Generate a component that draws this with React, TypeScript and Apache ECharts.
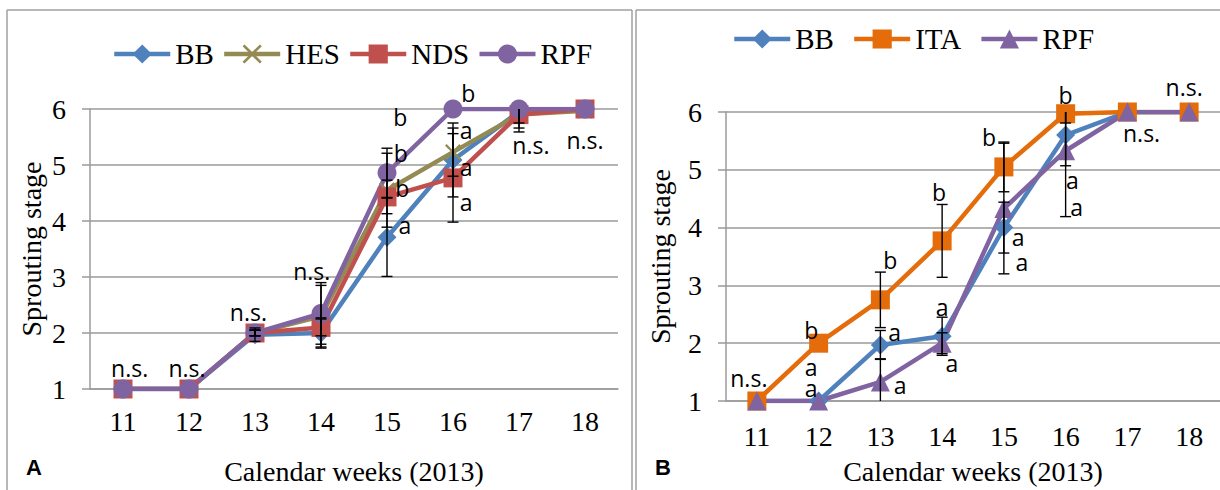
import React, { useEffect, useRef } from "react";
import * as echarts from "echarts";

// ---------- data ----------
const weeks = ["11", "12", "13", "14", "15", "16", "17", "18"];

// Panel A
const bbA = [1, 1, 1.97, 2.0, 3.71, 5.09, 5.95, 6];
const hesA = [1, 1, 2, 2.3, 4.55, 5.23, 5.9, 5.97];
const ndsA = [1, 1, 2, 2.1, 4.43, 4.77, 5.9, 6];
const rpfA = [1, 1, 2, 2.35, 4.86, 6, 6, 6];
const sdBbA = [0, 0, 0.12, 0.27, 0.7, 0.66, 0.2, 0];
const sdHesA = [0, 0, 0.05, 0.55, 0.66, 0.43, 0.24, 0];
const sdNdsA = [0, 0, 0.05, 0.15, 0.3, 0.79, 0.31, 0];
const sdRpfA = [0, 0, 0.05, 0.55, 0.44, 0, 0, 0];

// Panel B
const bbB = [1, 1, 1.97, 2.12, 4.0, 5.6, 6, 6];
const itaB = [1, 2, 2.75, 3.77, 5.05, 5.97, 6, 6];
const rpfB = [1, 1, 1.33, 2.0, 4.33, 5.33, 6, 6];
const sdBbB = [0, 0, 0.25, 0.33, 0.44, 0.53, 0, 0];
const sdItaB = [0, 0, 0.48, 0.63, 0.43, 0.16, 0, 0];
const sdRpfB = [0, 0, 0.4, 0.18, 1.13, 1.14, 0, 0];

const yTicks = [1, 2, 3, 4, 5, 6];

// significance letters: [week index, value level, offset within band, text]
const lettersA: [number, number, number, string][] = [
  [0, 1.375, 0.1, "n.s."],
  [1, 1.375, -0.03, "n.s."],
  [2, 2.375, -0.1, "n.s."],
  [3, 3.1, -0.14, "n.s."],
  [4, 5.86, 0.2, "b"],
  [4, 5.21, 0.21, "b"],
  [4, 4.59, 0.23, "b"],
  [4, 3.93, 0.27, "a"],
  [5, 6.29, 0.23, "b"],
  [5, 5.63, 0.2, "a"],
  [5, 4.96, 0.2, "a"],
  [5, 4.34, 0.2, "a"],
  [6, 5.36, 0.18, "n.s."],
  [7, 5.45, 0, "n.s."],
];
const lettersB: [number, number, number, string][] = [
  [0, 1.4, -0.13, "n.s."],
  [1, 2.23, -0.12, "b"],
  [1, 1.59, -0.12, "a"],
  [1, 1.22, -0.12, "a"],
  [2, 3.44, 0.16, "b"],
  [2, 2.19, 0.23, "a"],
  [2, 1.28, 0.32, "a"],
  [3, 4.62, -0.05, "b"],
  [3, 2.63, 0, "a"],
  [3, 1.66, 0.16, "a"],
  [4, 5.57, -0.24, "b"],
  [4, 3.84, 0.23, "a"],
  [4, 3.4, 0.29, "a"],
  [5, 6.29, 0, "b"],
  [5, 4.82, 0.11, "a"],
  [5, 4.36, 0.18, "a"],
  [6, 5.64, 0.23, "n.s."],
  [7, 6.43, -0.08, "n.s."],
];

// ---------- styles ----------
const COL = {
  BB: "#4F81BD",
  HES: "#948A54",
  NDS: "#C0504D",
  RPF: "#8064A2",
  ITA: "#E46C0A",
};
const SERIF = '"Liberation Serif", "Times New Roman", serif';
const SANS = '"Open Sans", "Liberation Sans", sans-serif';
const GRID_GRAY = "#9a9a9a";
const Y_MIN = 1;
const Y_MAX = 6;
const X_SYMBOL =
  "path://M0,1L1,0L5,4L9,0L10,1L6,5L10,9L9,10L5,6L1,10L0,9L4,5Z";

function errData(vals: number[], sds: number[]) {
  const out: number[][] = [];
  vals.forEach((v, i) => {
    if (sds[i] > 0) out.push([i, v - sds[i], v + sds[i]]);
  });
  return out;
}

function errSeries(xi: number, vals: number[], sds: number[]) {
  return {
    type: "custom",
    name: "err",
    xAxisIndex: xi,
    yAxisIndex: xi,
    z: 5,
    silent: true,
    data: errData(vals, sds),
    encode: { x: 0, y: [1, 2] },
    renderItem: (params: any, api: any) => {
      const idx = api.value(0);
      const lo = api.value(1);
      const hi = api.value(2);
      const loC = Math.max(lo, Y_MIN);
      const hiC = Math.min(hi, Y_MAX);
      const pLo = api.coord([idx, loC]);
      const pHi = api.coord([idx, hiC]);
      const x = pLo[0];
      const w = 5.5;
      const st = { stroke: "#000", lineWidth: 1.4 };
      const children: any[] = [
        { type: "line", shape: { x1: x, y1: pLo[1], x2: x, y2: pHi[1] }, style: st },
      ];
      if (lo >= Y_MIN)
        children.push({ type: "line", shape: { x1: x - w, y1: pLo[1], x2: x + w, y2: pLo[1] }, style: st });
      if (hi <= Y_MAX)
        children.push({ type: "line", shape: { x1: x - w, y1: pHi[1], x2: x + w, y2: pHi[1] }, style: st });
      return { type: "group", children };
    },
  };
}

function letterSeries(xi: number, letters: [number, number, number, string][]) {
  return {
    type: "custom",
    name: "letters",
    xAxisIndex: xi,
    yAxisIndex: xi,
    z: 10,
    silent: true,
    data: letters.map((l) => [l[0], l[1], l[2]]),
    encode: { x: 0, y: 1 },
    renderItem: (params: any, api: any) => {
      const p = api.coord([api.value(0), api.value(1)]);
      const band = api.size([1, 0])[0];
      const txt = letters[params.dataIndex][3];
      return {
        type: "text",
        x: p[0] + api.value(2) * band,
        y: p[1],
        style: {
          text: txt,
          fill: "#000",
          font: `23px ${SANS}`,
          align: "center",
          verticalAlign: "middle",
        },
      };
    },
  };
}

function lineSeries(name: string, xi: number, data: number[], color: string, symbol: string, size: number) {
  return {
    type: "line",
    name,
    xAxisIndex: xi,
    yAxisIndex: xi,
    data,
    symbol,
    symbolSize: size,
    showAllSymbol: true,
    z: 3,
    lineStyle: { color, width: 4.5 },
    itemStyle: { color, borderWidth: 0 },
    emphasis: { disabled: true },
  };
}

function xAxisCfg(gridIndex: number, nameGap: number, margin: number) {
  return {
    type: "category",
    gridIndex,
    data: weeks,
    boundaryGap: true,
    name: "Calendar weeks (2013)",
    nameLocation: "middle",
    nameGap,
    nameTextStyle: { fontFamily: SERIF, fontSize: 28, color: "#000" },
    axisLine: { show: true, lineStyle: { color: GRID_GRAY, width: 1.5 } },
    axisTick: { show: false },
    axisLabel: { fontFamily: SERIF, fontSize: 28, color: "#000", margin },
    splitLine: { show: false },
  };
}

function yAxisCfg(gridIndex: number, nameGap: number) {
  return {
    type: "value",
    gridIndex,
    min: yTicks[0],
    max: yTicks[yTicks.length - 1],
    interval: 1,
    name: "Sprouting stage",
    nameLocation: "middle",
    nameGap,
    nameTextStyle: { fontFamily: SERIF, fontSize: 28, color: "#000" },
    axisLine: { show: true, lineStyle: { color: GRID_GRAY, width: 1.5 } },
    axisTick: { show: true, length: 8, lineStyle: { color: GRID_GRAY, width: 1.5 } },
    axisLabel: { fontFamily: SERIF, fontSize: 28, color: "#000", margin: 24 },
    splitLine: { show: true, lineStyle: { color: GRID_GRAY, width: 1.5 } },
  };
}

const legendText = { fontFamily: SERIF, fontSize: 29, color: "#000", lineHeight: 30 };

export default function App() {
  const ref = useRef<HTMLDivElement>(null);
  useEffect(() => {
    if (!ref.current) return;
    const chart = echarts.init(ref.current, undefined, { renderer: "svg" });
    const borderStyle = { stroke: "#a0a0a0", lineWidth: 1.5 };
    const panelFont = `bold 22px "Liberation Sans", Arial, sans-serif`;
    chart.setOption({
      animation: false,
      backgroundColor: "#fff",
      grid: [
        { left: 90, right: 602, top: 109, bottom: 101 },
        { left: 726, right: -2, top: 112, bottom: 89 },
      ],
      xAxis: [xAxisCfg(0, 68, 18), xAxisCfg(1, 56, 21)],
      yAxis: [yAxisCfg(0, 45), yAxisCfg(1, 52)],
      legend: [
        {
          data: ["BB", "HES", "NDS", "RPF"],
          left: 107,
          top: 34,
          itemWidth: 56,
          itemHeight: 24,
          itemGap: 8,
          lineStyle: { width: 4.5 },
          textStyle: legendText,
          selectedMode: false,
        },
        {
          data: ["BB_B", "ITA", "RPF_B"],
          formatter: (n: string) => n.replace("_B", ""),
          left: 727,
          top: 19,
          itemWidth: 56,
          itemHeight: 24,
          itemGap: 18,
          lineStyle: { width: 4.5 },
          textStyle: legendText,
          selectedMode: false,
        },
      ],
      graphic: [
        { type: "line", shape: { x1: 7, y1: 10, x2: 7, y2: 490 }, style: borderStyle },
        { type: "line", shape: { x1: 7, y1: 10, x2: 632, y2: 10 }, style: borderStyle },
        { type: "line", shape: { x1: 632, y1: 10, x2: 632, y2: 490 }, style: borderStyle },
        { type: "line", shape: { x1: 636, y1: 10, x2: 636, y2: 490 }, style: borderStyle },
        { type: "line", shape: { x1: 636, y1: 10, x2: 1220, y2: 10 }, style: borderStyle },
        {
          type: "text",
          x: 34,
          y: 467,
          style: { text: "A", font: panelFont, fill: "#000", align: "center", verticalAlign: "middle" },
        },
        {
          type: "text",
          x: 663,
          y: 467,
          style: { text: "B", font: panelFont, fill: "#000", align: "center", verticalAlign: "middle" },
        },
      ],
      series: [
        lineSeries("BB", 0, bbA, COL.BB, "diamond", 19),
        lineSeries("HES", 0, hesA, COL.HES, X_SYMBOL, 16),
        lineSeries("NDS", 0, ndsA, COL.NDS, "rect", 19),
        lineSeries("RPF", 0, rpfA, COL.RPF, "circle", 19),
        errSeries(0, bbA, sdBbA),
        errSeries(0, hesA, sdHesA),
        errSeries(0, ndsA, sdNdsA),
        errSeries(0, rpfA, sdRpfA),
        letterSeries(0, lettersA),
        lineSeries("BB_B", 1, bbB, COL.BB, "diamond", 19),
        lineSeries("ITA", 1, itaB, COL.ITA, "rect", 19),
        lineSeries("RPF_B", 1, rpfB, COL.RPF, "triangle", 19),
        errSeries(1, bbB, sdBbB),
        errSeries(1, itaB, sdItaB),
        errSeries(1, rpfB, sdRpfB),
        letterSeries(1, lettersB),
      ],
    });
    return () => chart.dispose();
  }, []);
  return (
    <div
      ref={ref}
      style={{ position: "fixed", left: 0, top: 0, width: 1220, height: 490, background: "#fff" }}
    />
  );
}
